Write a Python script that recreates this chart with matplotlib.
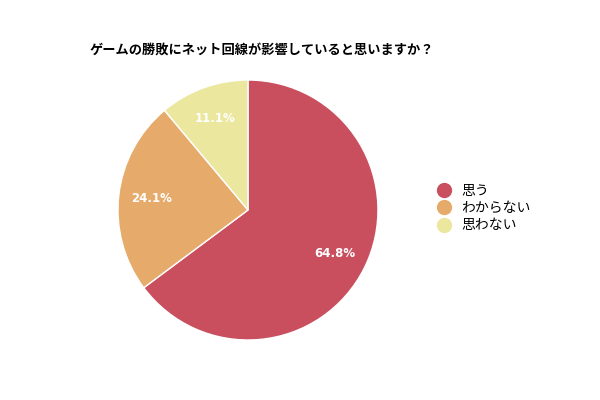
import matplotlib
matplotlib.use("Agg")
import matplotlib.pyplot as plt
from matplotlib.lines import Line2D
import numpy as np

plt.rcParams['font.family'] = ['Noto Sans CJK JP', 'DejaVu Sans']

title = "ゲームの勝敗にネット回線が影響していると思いますか？"
labels = ["思う", "わからない", "思わない"]
values = [64.8, 24.1, 11.1]
colors = ["#c94f5f", "#e6ab6b", "#ece79e"]

fig = plt.figure(figsize=(6, 4), dpi=100)
ax = fig.add_axes([248/600 - 0.2167, 0.475 - 0.325, 0.4333, 0.65])
wedges, _ = ax.pie(values, colors=colors, startangle=90, counterclock=False,
                   wedgeprops=dict(edgecolor="white", linewidth=1))
for w, v in zip(wedges, values):
    ang = np.deg2rad((w.theta1 + w.theta2) / 2)
    r = 0.75
    ax.text(r*np.cos(ang), r*np.sin(ang), f"{v}%", ha="center", va="center",
            color="white", fontsize=8.5, fontweight="bold", family="DejaVu Sans")
ax.set_xlim(-1, 1)
ax.set_ylim(-1, 1)
ax.set_aspect("equal")

fig.text(90/600, 1 - 50/400, title, fontsize=9.5, fontweight="bold", ha="left", va="center")

handles = [Line2D([], [], marker="o", linestyle="", markersize=10,
                  markerfacecolor=c, markeredgecolor=c) for c in colors]
fig.legend(handles, labels, loc="center left", bbox_to_anchor=(418/600, 1 - 208/400),
           frameon=False, fontsize=10, handletextpad=0.2, labelspacing=0.25)

fig.savefig("out.png", dpi=100)
